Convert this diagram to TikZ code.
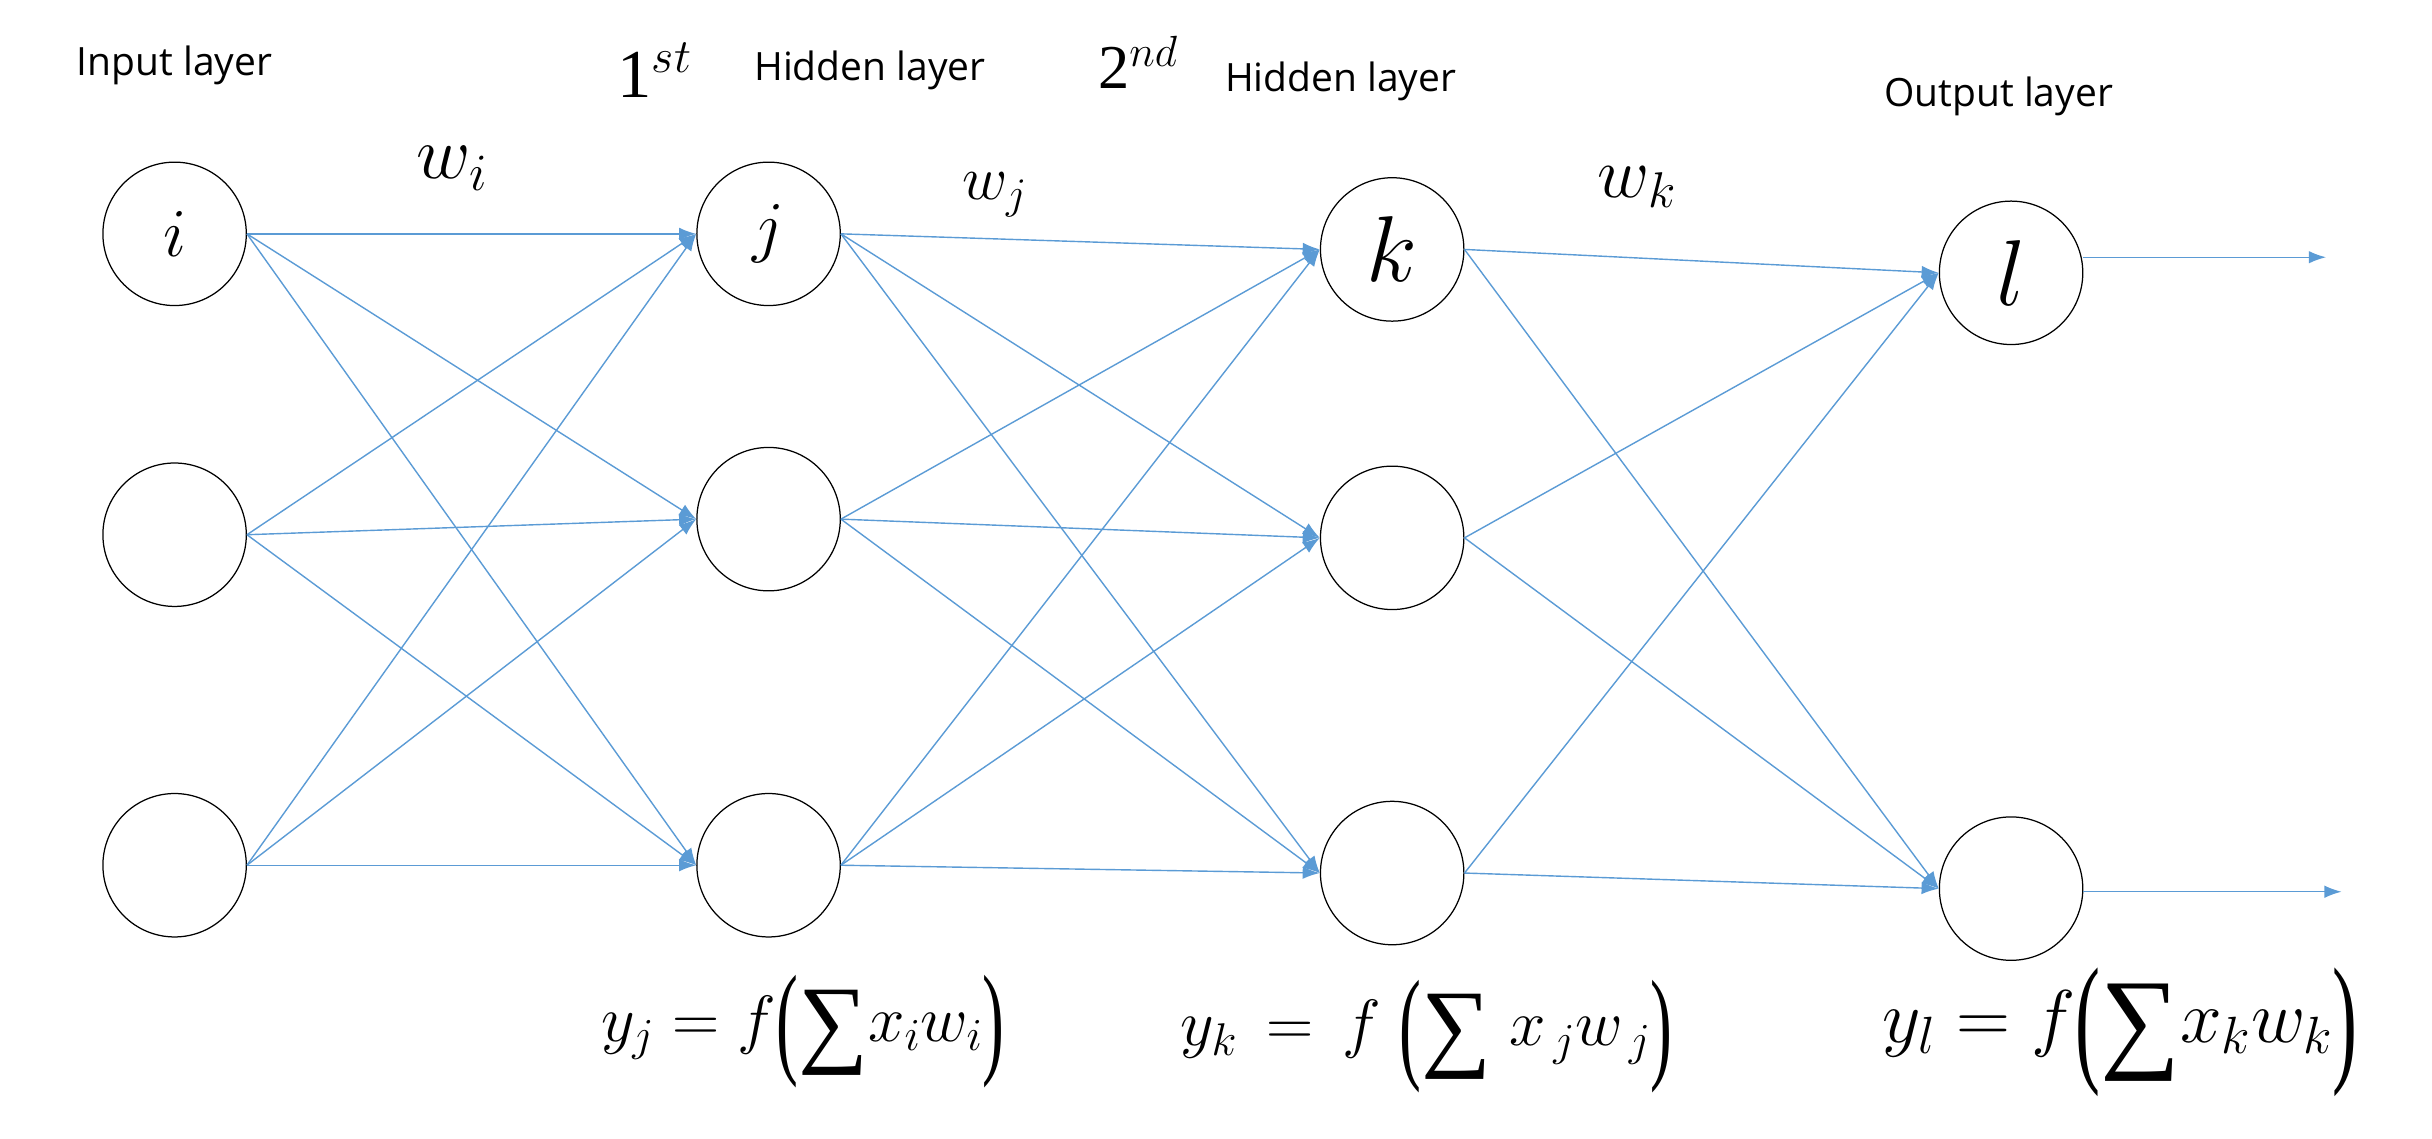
\RequirePackage{fix-cm}
\documentclass[tikz,border=0pt]{standalone}
\usepackage{fontspec}
\usepackage{graphicx}
\setmainfont{Liberation Serif}
\newfontfamily\lab{Open Sans}
\usetikzlibrary{arrows.meta}
\definecolor{ln}{RGB}{91,155,213}
\newcommand{\lpar}{\raisebox{-0.32em}{\scalebox{1}[1.9]{(}}}
\newcommand{\rpar}{\raisebox{-0.32em}{\scalebox{1}[1.9]{)}}}
\newcommand{\bsum}{\raisebox{-0.2em}{\scalebox{1.5}{\textup{∑}}}}
\begin{document}
\begin{tikzpicture}[x=1pt,y=-1pt,
  neu/.style={circle,draw,thick,minimum size=92pt,inner sep=0pt,font=\fontsize{44}{48}\selectfont},
  con/.style={ln,line width=0.9pt,-{Latex[length=11pt,width=8pt]}},
  lay/.style={font=\lab\fontsize{25}{30}\selectfont},
  fm/.style={font=\fontsize{42}{46}\selectfont}]
\useasboundingbox (0,0) rectangle (1560,730);
\node[neu] (i1) at (112,150) {$i$};
\node[neu] (i2) at (112,343) {};
\node[neu] (i3) at (112,555) {};
\node[neu] (j1) at (493,150) {$j$};
\node[neu] (j2) at (493,333) {};
\node[neu] (j3) at (493,555) {};
\node[neu,font=\fontsize{60}{64}\selectfont] (k1) at (893,160) {$k$};
\node[neu] (k2) at (893,345) {};
\node[neu] (k3) at (893,560) {};
\node[neu,font=\fontsize{60}{64}\selectfont] (l1) at (1290,175) {$l$};
\node[neu] (l2) at (1290,570) {};
\foreach \a in {i1,i2,i3}{\foreach \b in {j1,j2,j3}{\draw[con] (\a.east) -- (\b.west);}}
\foreach \a in {j1,j2,j3}{\foreach \b in {k1,k2,k3}{\draw[con] (\a.east) -- (\b.west);}}
\foreach \a in {k1,k2,k3}{\foreach \b in {l1,l2}{\draw[con] (\a.east) -- (\b.west);}}
\coordinate (o1) at (1492,165);
\coordinate (o2) at (1502,572);
\draw[con] (l1.east |- o1) -- (o1);
\draw[con] (l2.east |- o2) -- (o2);
\node[lay] (t1) at (112,42) {Input layer};
\node[font=\fontsize{44}{48}\selectfont] (t2) at (420,45) {1$^{st}$};
\node[lay] (t3) at (558,45) {Hidden layer};
\node[font=\fontsize{40}{44}\selectfont] (t4) at (730,40) {2$^{nd}$};
\node[lay] (t5) at (860,52) {Hidden layer};
\node[lay] (t6) at (1282,62) {Output layer};
\node[font=\fontsize{48}{52}\selectfont] (w1) at (290,108) {$w_{i}$};
\node[font=\fontsize{40}{44}\selectfont] (w2) at (638,125) {$w_{j}$};
\node[font=\fontsize{46}{50}\selectfont] (w3) at (1050,120) {$w_{k}$};
\node[fm] (f1) at (515,662) {$y_j = f\lpar\bsum x_i w_i\rpar$};
\node[fm] (f2) at (915,665) {$y_k \,=\, f\;\lpar\bsum\; x_{\,j} w_{\,j}\rpar$};
\node[fm,font=\fontsize{48}{52}\selectfont] (f3) at (1360,662) {$y_l = f\lpar\bsum x_k w_k\rpar$};
\end{tikzpicture}
\end{document}
